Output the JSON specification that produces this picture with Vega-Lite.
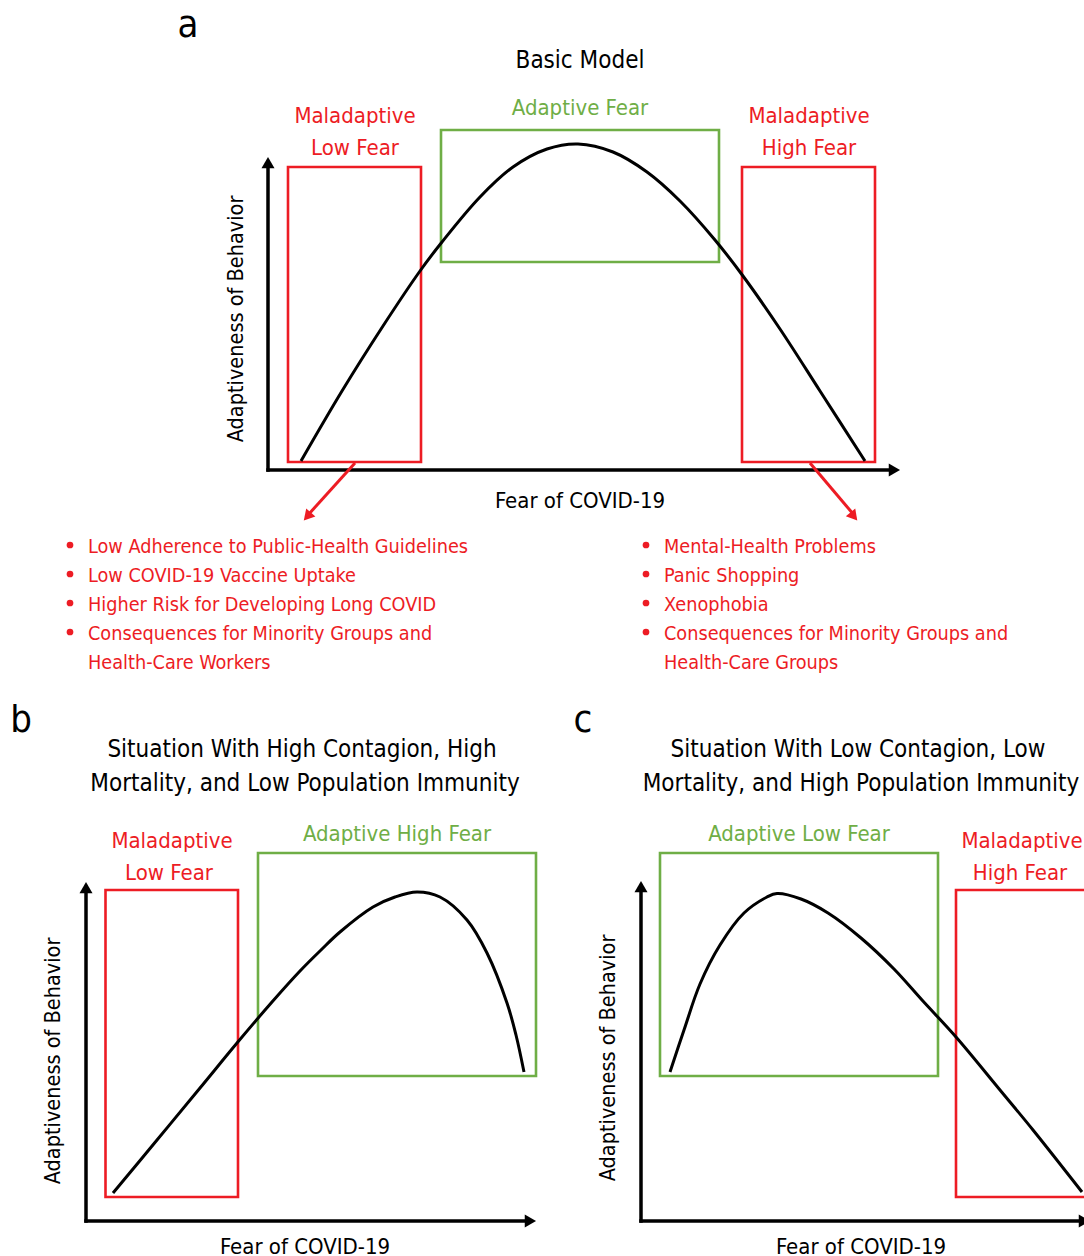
{
  "$schema": "https://vega.github.io/schema/vega-lite/v6.json",
  "width": 1084,
  "height": 1256,
  "padding": 0,
  "autosize": {"type": "fit", "contains": "padding"},
  "background": "white",
  "config": {"view": {"stroke": null}, "text": {"font": "DejaVu Sans Condensed, Liberation Sans, sans-serif"}},
  "datasets": {
    "curves": [
      {"panel": "a", "x": 301, "y": 461}, {"panel": "a", "x": 342, "y": 391}, {"panel": "a", "x": 383, "y": 326}, {"panel": "a", "x": 420, "y": 271}, {"panel": "a", "x": 442, "y": 242}, {"panel": "a", "x": 480, "y": 197}, {"panel": "a", "x": 513, "y": 167}, {"panel": "a", "x": 547, "y": 149}, {"panel": "a", "x": 578, "y": 144}, {"panel": "a", "x": 613, "y": 152}, {"panel": "a", "x": 647, "y": 172}, {"panel": "a", "x": 680, "y": 201}, {"panel": "a", "x": 715, "y": 240}, {"panel": "a", "x": 743, "y": 276}, {"panel": "a", "x": 780, "y": 329}, {"panel": "a", "x": 820, "y": 391}, {"panel": "a", "x": 865, "y": 461},
      {"panel": "b", "x": 113, "y": 1193}, {"panel": "b", "x": 157, "y": 1140}, {"panel": "b", "x": 200, "y": 1088}, {"panel": "b", "x": 237, "y": 1043}, {"panel": "b", "x": 272, "y": 1002}, {"panel": "b", "x": 300, "y": 971}, {"panel": "b", "x": 321, "y": 950}, {"panel": "b", "x": 340, "y": 932}, {"panel": "b", "x": 373, "y": 907}, {"panel": "b", "x": 395, "y": 897}, {"panel": "b", "x": 417, "y": 892}, {"panel": "b", "x": 440, "y": 897}, {"panel": "b", "x": 467, "y": 920}, {"panel": "b", "x": 487, "y": 953}, {"panel": "b", "x": 507, "y": 1003}, {"panel": "b", "x": 516, "y": 1035}, {"panel": "b", "x": 524, "y": 1072},
      {"panel": "c", "x": 670, "y": 1072}, {"panel": "c", "x": 684, "y": 1030}, {"panel": "c", "x": 700, "y": 984}, {"panel": "c", "x": 720, "y": 945}, {"panel": "c", "x": 744, "y": 913}, {"panel": "c", "x": 767, "y": 897}, {"panel": "c", "x": 777, "y": 893.5}, {"panel": "c", "x": 801, "y": 899}, {"panel": "c", "x": 828, "y": 913}, {"panel": "c", "x": 861, "y": 938}, {"panel": "c", "x": 894, "y": 969}, {"panel": "c", "x": 922, "y": 1000}, {"panel": "c", "x": 956, "y": 1037}, {"panel": "c", "x": 1000, "y": 1090}, {"panel": "c", "x": 1033, "y": 1130}, {"panel": "c", "x": 1082, "y": 1192}
    ],
    "boxes": [
      {"kind": "mal", "x": 288, "x2": 421, "y": 167, "y2": 462},
      {"kind": "ada", "x": 441, "x2": 719, "y": 130, "y2": 262},
      {"kind": "mal", "x": 742, "x2": 875, "y": 167, "y2": 462},
      {"kind": "mal", "x": 105.5, "x2": 238, "y": 890, "y2": 1197},
      {"kind": "ada", "x": 258, "x2": 536, "y": 853, "y2": 1076},
      {"kind": "ada", "x": 660, "x2": 938, "y": 853, "y2": 1076},
      {"kind": "mal", "x": 956, "x2": 1100, "y": 890, "y2": 1197}
    ],
    "axes": [
      {"x": 268, "y": 470, "x2": 268, "y2": 166},
      {"x": 268, "y": 470, "x2": 894, "y2": 470},
      {"x": 86, "y": 1221, "x2": 86, "y2": 890},
      {"x": 86, "y": 1221, "x2": 530, "y2": 1221},
      {"x": 641, "y": 1221, "x2": 641, "y2": 889},
      {"x": 641, "y": 1221, "x2": 1100, "y2": 1221}
    ],
    "pointers": [
      {"x": 355, "y": 463, "x2": 308, "y2": 515},
      {"x": 810, "y": 463, "x2": 854, "y2": 515}
    ],
    "heads": [
      {"dir": "up", "x": 268, "y": 162.6},
      {"dir": "up", "x": 86, "y": 887.6},
      {"dir": "up", "x": 641, "y": 886.6},
      {"dir": "right", "x": 894.4, "y": 470},
      {"dir": "right", "x": 530.4, "y": 1221},
      {"dir": "right", "x": 1084.4, "y": 1221},
      {"dir": "downleft", "x": 307.3, "y": 516.5},
      {"dir": "downright", "x": 853.9, "y": 516.4}
    ],
    "letters": [
      {"x": 188, "y": 37, "text": "a"},
      {"x": 21, "y": 732, "text": "b"},
      {"x": 583, "y": 732, "text": "c"}
    ],
    "titles": [
      {"x": 580, "y": 68, "text": "Basic Model"},
      {"x": 302, "y": 757, "text": "Situation With High Contagion, High"},
      {"x": 305, "y": 791, "text": "Mortality, and Low Population Immunity"},
      {"x": 858, "y": 757, "text": "Situation With Low Contagion, Low"},
      {"x": 861, "y": 791, "text": "Mortality, and High Population Immunity"}
    ],
    "labels": [
      {"kind": "mal", "x": 355, "y": 123, "text": "Maladaptive"},
      {"kind": "mal", "x": 355, "y": 155, "text": "Low Fear"},
      {"kind": "ada", "x": 580, "y": 115, "text": "Adaptive Fear"},
      {"kind": "mal", "x": 809, "y": 123, "text": "Maladaptive"},
      {"kind": "mal", "x": 809, "y": 155, "text": "High Fear"},
      {"kind": "mal", "x": 172, "y": 848, "text": "Maladaptive"},
      {"kind": "mal", "x": 169, "y": 880, "text": "Low Fear"},
      {"kind": "ada", "x": 397, "y": 841, "text": "Adaptive High Fear"},
      {"kind": "ada", "x": 799, "y": 841, "text": "Adaptive Low Fear"},
      {"kind": "mal", "x": 1022, "y": 848, "text": "Maladaptive"},
      {"kind": "mal", "x": 1020, "y": 880, "text": "High Fear"}
    ],
    "xtitles": [
      {"x": 580, "y": 508, "text": "Fear of COVID-19"},
      {"x": 305, "y": 1254, "text": "Fear of COVID-19"},
      {"x": 861, "y": 1254, "text": "Fear of COVID-19"}
    ],
    "ytitles": [
      {"x": 243, "y": 319, "text": "Adaptiveness of Behavior"},
      {"x": 60, "y": 1061, "text": "Adaptiveness of Behavior"},
      {"x": 615, "y": 1058, "text": "Adaptiveness of Behavior"}
    ],
    "items": [
      {"x": 88, "y": 553, "text": "Low Adherence to Public-Health Guidelines"},
      {"x": 88, "y": 582, "text": "Low COVID-19 Vaccine Uptake"},
      {"x": 88, "y": 611, "text": "Higher Risk for Developing Long COVID"},
      {"x": 88, "y": 640, "text": "Consequences for Minority Groups and"},
      {"x": 88, "y": 669, "text": "Health-Care Workers"},
      {"x": 664, "y": 553, "text": "Mental-Health Problems"},
      {"x": 664, "y": 582, "text": "Panic Shopping"},
      {"x": 664, "y": 611, "text": "Xenophobia"},
      {"x": 664, "y": 640, "text": "Consequences for Minority Groups and"},
      {"x": 664, "y": 669, "text": "Health-Care Groups"}
    ],
    "dots": [
      {"x": 70, "y": 545}, {"x": 70, "y": 574}, {"x": 70, "y": 603}, {"x": 70, "y": 632},
      {"x": 646, "y": 545}, {"x": 646, "y": 574}, {"x": 646, "y": 603}, {"x": 646, "y": 632}
    ]
  },
  "encoding": {
    "x": {"field": "x", "type": "quantitative", "scale": {"domain": [0, 1084], "nice": false, "zero": false}, "axis": null},
    "y": {"field": "y", "type": "quantitative", "scale": {"domain": [0, 1256], "nice": false, "zero": false, "reverse": true}, "axis": null}
  },
  "layer": [
    {
      "data": {"name": "boxes"},
      "mark": {"type": "rect", "fill": "white", "fillOpacity": 0, "strokeWidth": 2.6, "clip": true},
      "encoding": {
        "x2": {"field": "x2"},
        "y2": {"field": "y2"},
        "stroke": {"field": "kind", "type": "nominal", "scale": {"domain": ["mal", "ada"], "range": ["#ed1c24", "#6fae46"]}, "legend": null}
      }
    },
    {
      "data": {"name": "curves"},
      "mark": {"type": "line", "color": "black", "strokeWidth": 3, "interpolate": "catmull-rom", "clip": true},
      "encoding": {"detail": {"field": "panel", "type": "nominal"}}
    },
    {
      "data": {"name": "axes"},
      "mark": {"type": "rule", "color": "black", "strokeWidth": 3.5, "strokeCap": "square", "clip": true},
      "encoding": {"x2": {"field": "x2"}, "y2": {"field": "y2"}}
    },
    {
      "data": {"name": "pointers"},
      "mark": {"type": "rule", "color": "#ed1c24", "strokeWidth": 3, "clip": true},
      "encoding": {"x2": {"field": "x2"}, "y2": {"field": "y2"}}
    },
    {
      "data": {"name": "heads"},
      "transform": [{"filter": "datum.dir == 'up'"}],
      "mark": {"type": "point", "shape": "triangle-up", "filled": true, "color": "black", "opacity": 1, "size": 170, "clip": true}
    },
    {
      "data": {"name": "heads"},
      "transform": [{"filter": "datum.dir == 'right'"}],
      "mark": {"type": "point", "shape": "triangle-right", "filled": true, "color": "black", "opacity": 1, "size": 170, "clip": true}
    },
    {
      "data": {"name": "heads"},
      "transform": [{"filter": "datum.dir == 'downleft'"}],
      "mark": {"type": "point", "shape": "triangle-up", "angle": 221.5, "filled": true, "color": "#ed1c24", "opacity": 1, "size": 150, "clip": true}
    },
    {
      "data": {"name": "heads"},
      "transform": [{"filter": "datum.dir == 'downright'"}],
      "mark": {"type": "point", "shape": "triangle-up", "angle": 140.4, "filled": true, "color": "#ed1c24", "opacity": 1, "size": 150, "clip": true}
    },
    {
      "data": {"name": "letters"},
      "mark": {"type": "text", "fontSize": 38, "align": "center", "baseline": "alphabetic", "color": "black", "clip": true},
      "encoding": {"text": {"field": "text"}}
    },
    {
      "data": {"name": "titles"},
      "mark": {"type": "text", "fontSize": 24, "align": "center", "baseline": "alphabetic", "color": "black", "clip": true},
      "encoding": {"text": {"field": "text"}}
    },
    {
      "data": {"name": "labels"},
      "mark": {"type": "text", "fontSize": 22, "align": "center", "baseline": "alphabetic", "clip": true},
      "encoding": {
        "text": {"field": "text"},
        "color": {"field": "kind", "type": "nominal", "scale": {"domain": ["mal", "ada"], "range": ["#ed1c24", "#6fae46"]}, "legend": null}
      }
    },
    {
      "data": {"name": "xtitles"},
      "mark": {"type": "text", "fontSize": 22, "align": "center", "baseline": "alphabetic", "color": "black", "clip": true},
      "encoding": {"text": {"field": "text"}}
    },
    {
      "data": {"name": "ytitles"},
      "mark": {"type": "text", "fontSize": 21.5, "align": "center", "baseline": "alphabetic", "angle": 270, "color": "black", "clip": true},
      "encoding": {"text": {"field": "text"}}
    },
    {
      "data": {"name": "items"},
      "mark": {"type": "text", "fontSize": 19.7, "align": "left", "baseline": "alphabetic", "color": "#ed1c24", "clip": true},
      "encoding": {"text": {"field": "text"}}
    },
    {
      "data": {"name": "dots"},
      "mark": {"type": "point", "shape": "circle", "filled": true, "color": "#ed1c24", "opacity": 1, "size": 45, "clip": true}
    }
  ]
}
